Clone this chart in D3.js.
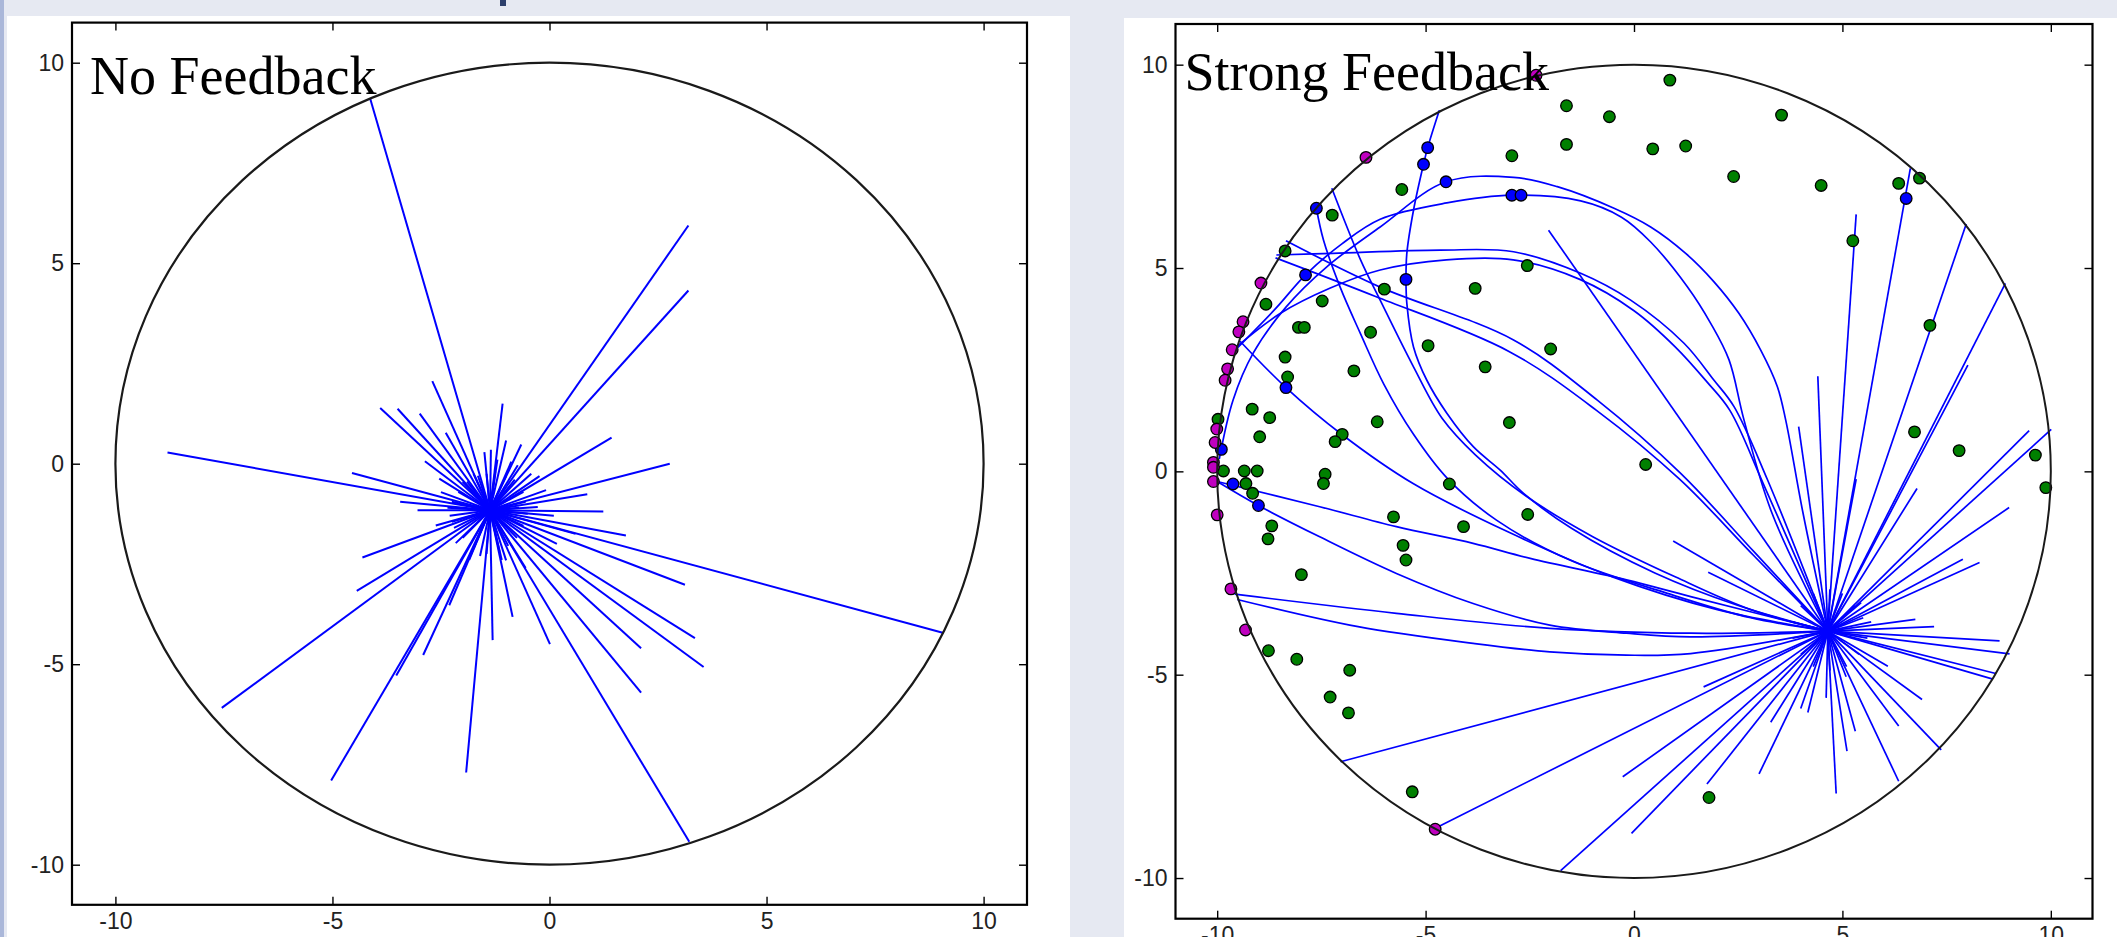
<!DOCTYPE html>
<html>
<head>
<meta charset="utf-8">
<script src="https://cdn.jsdelivr.net/npm/d3@7"></script>
<style>
  body { margin: 0; background: #e6e9f2; }
  svg { display: block; }
</style>
</head>
<body>
<div id="chart"></div>
<script>
// axes, shared by both panels
var axisDomain = [-11, 11];
var axisTicks  = [-10, -5, 0, 5, 10];
var panelTitles = ["No Feedback", "Strong Feedback"];

// left panel: straight rays from one centre
var noFbCenter = [-1.37, -1.16];
var noFbEndX = [-4.13, -2.70, -3.90, -3.50, -2.99, -2.39, -2.87, -1.08, -1.50, -1.35, -1.00, -0.65, -1.20, -0.88,
                -0.73, -0.42, -0.23, 3.20, 3.20, 1.43, 2.77, 0.87, -0.08, -0.27, 1.24, 0.10, 1.76, 0.17, 0.60,
                3.12, 9.08, 3.35, 3.55, 2.11, 2.11, 0.01, 3.22, -0.85, -1.00, -0.55, -1.31, -1.92, -2.31, -2.91,
                -3.53, -5.03, -2.16, -1.85, -4.44, -7.55, -4.31, -2.62, -2.25, -3.04, -3.44, -2.50, -2.54, -4.55,
                -8.80, -2.00, -1.75,
                -1.00, -0.90, -0.60, -0.55, -0.50, -0.60, -0.75, -0.95, -1.15, -1.45, -1.75, -2.00, -2.20, -2.30,
                -2.25, -2.10, -1.90, -1.65, -1.45, -1.25, -0.80, -0.70, -2.35, -1.60, -1.10];
var noFbEndY = [9.10, 2.06, 1.39, 1.37, 1.25, 0.77, 0.06, 1.50, 0.29, 0.35, 0.58, 0.48, 0.10, 0.05,
                -0.04, -0.25, -0.31, 5.94, 4.32, 0.65, 0.00, -0.76, -0.66, -1.08, -1.19, -1.30, -1.79, -2.00, -1.75,
                -3.02, -4.22, -4.35, -5.07, -4.60, -5.71, -4.50, -9.43, -3.82, -2.41, -2.60, -4.40, -7.70, -3.53, -4.77,
                -5.28, -7.90, -1.98, -2.40, -3.17, -6.09, -2.34, -1.54, -1.45, -1.16, -0.95, -0.71, -0.37, -0.23,
                0.28, -0.45, -0.25,
                -0.30, -0.55, -0.70, -0.95, -1.25, -1.55, -1.85, -2.05, -2.20, -2.25, -2.10, -1.85, -1.60, -1.30,
                -0.95, -0.70, -0.45, -0.30, -0.25, -0.20, -0.40, -1.10, -1.10, -2.30, -2.40];

// right panel: straight rays from the centre
var strongCenter = [4.65, -3.93];
var strongRayX = [3.95, 4.41, 5.33, 6.63, 7.97, 8.91, 8.01, 5.33, 6.79, 9.48, 10.01, 9.00, 7.89, 8.29, 6.75, 7.20,
                  8.77, 9.01, 8.68, 8.61, 6.09, 6.91, 6.35, 7.37, 6.35, 5.31, 5.11, 4.85, 4.61, 4.17, 4.00, 3.28,
                  3.00, 1.75, 1.67, 1.78, 0.94, -0.27, -0.06, -1.76, -4.78, -7.04, -2.05, 5.69, 5.45, 5.09,
                  5.30, 5.50, 5.60, 5.40, 5.10, 4.70, 4.30, 4.00, 3.80, 3.80, 4.00, 4.30, 4.70, 5.00];
var strongRayY = [1.10, 2.34, 6.32, 7.45, 6.08, 4.62, 2.61, -0.19, -0.42, 1.00, 1.03, -0.89, -2.16, -2.24, -3.64, -3.82,
                  -4.17, -4.49, -4.97, -5.11, -4.79, -5.61, -6.26, -6.85, -7.62, -6.39, -6.88, -7.92, -5.57, -5.93, -5.83, -6.17,
                  -7.44, -7.69, -5.30, -2.48, -1.71, -7.51, -8.90, -9.82, -8.78, -7.14, 5.93, -3.70, -3.23, -5.05,
                  -3.30, -3.60, -4.10, -4.50, -4.80, -4.90, -4.80, -4.50, -4.10, -3.70, -3.30, -3.00, -2.90, -3.00];

// right panel: bent paths that run into the centre
var strongCurves = [
  [[-9.95, 0.30], [-9.62, 1.75], [-9.14, 2.90], [-8.34, 4.05], [-7.37, 5.03], [-6.09, 6.01], [-4.51, 7.12], [-2.89, 7.23],
   [-1.84, 7.00], [-0.48, 6.47], [0.40, 6.01], [1.24, 5.36], [1.92, 4.66], [2.52, 3.88], [3.04, 2.98], [3.44, 2.08],
   [3.64, 1.26], [4.05, -1.00], [4.65, -3.93]],
  [[-9.60, 2.95], [-8.60, 4.00], [-7.88, 4.83], [-7.00, 5.60], [-6.09, 6.20], [-4.49, 6.60], [-2.93, 6.79], [-1.28, 6.65],
   [-0.30, 6.25], [0.40, 5.64], [1.28, 4.54], [1.84, 3.64], [2.28, 2.74], [2.64, 1.26], [3.30, -1.00], [4.65, -3.93]],
  [[-8.58, 5.32], [-7.22, 5.36], [-4.65, 5.44], [-2.89, 5.40], [-1.28, 4.87], [-0.08, 4.21], [1.20, 3.15], [1.92, 2.24],
   [2.40, 1.59], [3.20, -0.20], [4.65, -3.93]],
  [[-9.55, 3.05], [-8.49, 3.88], [-7.30, 4.50], [-6.09, 4.95], [-4.50, 5.20], [-2.90, 5.20], [-1.30, 4.72], [0.00, 3.95],
   [1.00, 3.05], [1.75, 2.20], [2.30, 1.50], [3.10, -0.30], [4.65, -3.93]],
  [[-4.67, 8.88], [-4.95, 7.96], [-5.05, 7.55], [-5.29, 6.42], [-5.45, 5.36], [-5.47, 4.72], [-5.45, 4.13], [-5.29, 3.06],
   [-4.97, 2.24], [-4.49, 1.43], [-3.85, 0.60], [-3.21, 0.03], [-2.65, -0.54], [-1.50, -1.40], [0.50, -2.50], [2.50, -3.30],
   [4.65, -3.93]],
  [[-7.25, 6.96], [-6.56, 5.20], [-6.09, 4.21], [-5.29, 2.57], [-4.60, 1.30], [-3.80, 0.40], [-2.60, -0.60], [-1.00, -1.60],
   [1.00, -2.60], [2.80, -3.40], [4.65, -3.93]],
  [[-7.62, 6.47], [-7.45, 5.69], [-7.05, 4.53], [-6.56, 3.38], [-6.00, 2.14], [-5.29, 0.91], [-4.49, -0.16], [-3.30, -1.20],
   [-1.50, -2.20], [0.80, -3.00], [2.80, -3.60], [4.65, -3.93]],
  [[-8.35, 5.67], [-6.09, 4.53], [-2.89, 3.23], [-0.88, 1.75], [1.12, -0.05], [2.90, -2.00], [4.65, -3.93]],
  [[-8.60, 5.25], [-6.20, 4.30], [-3.00, 2.95], [-0.90, 1.50], [1.10, -0.20], [2.90, -2.10], [4.65, -3.93]],
  [[-9.45, 3.20], [-8.35, 2.06], [-7.00, 0.90], [-5.30, -0.30], [-3.00, -1.50], [-0.50, -2.60], [2.00, -3.40], [4.65, -3.93]],
  [[-10.00, -0.25], [-7.54, -0.87], [-5.70, -1.36], [-3.86, -1.77], [-2.49, -2.14], [-0.18, -2.67], [1.36, -3.08], [4.65, -3.93]],
  [[-10.00, -0.25], [-9.01, -0.84], [-7.54, -1.61], [-5.70, -2.51], [-3.86, -3.25], [-2.02, -3.78], [-0.18, -3.98],
   [1.36, -4.07], [4.65, -3.93]],
  [[-9.58, -3.02], [-5.70, -3.49], [-2.02, -3.86], [1.36, -3.98], [4.65, -3.93]],
  [[-9.52, -3.15], [-6.62, -3.82], [-3.86, -4.23], [-2.02, -4.44], [-0.18, -4.52], [1.36, -4.48], [4.65, -3.93]]
];

// right panel: scatter points by colour
var greenX = [0.86, 3.54, 0.45, 1.24, 2.39, 4.49, 6.35, 6.85, 5.25, 7.10, 6.73, 7.80, 9.63, 9.88, 1.80,
              -1.62, -0.59, -1.62, -2.93, -5.57, -7.24, -8.37, -8.83, -7.48, -5.99, -3.81, -2.56, -8.05, -7.91,
              -6.32, -8.37, -8.31, -4.94, -2.00, -6.72, -3.57, -9.16, -8.74, -8.98, -6.16, -2.99, -7.00, -7.17,
              -9.98, 0.28, -9.85, -9.35, -9.04, -7.41, -7.45, -9.31, -9.15, -4.43, -8.69, -8.78, -5.77, -4.09,
              -2.55, -5.54, -5.47, -7.98, -8.77, -8.09, -6.82, -7.29, -6.85, -5.32];
var greenY = [9.62, 8.76, 7.93, 8.00, 7.25, 7.03, 7.08, 7.21, 5.67, 3.59, 0.97, 0.51, 0.40, -0.40, -8.02,
              8.99, 8.72, 8.04, 7.76, 6.93, 6.30, 5.42, 4.11, 4.19, 4.48, 4.50, 5.06, 3.54, 3.54,
              3.42, 2.81, 2.32, 3.09, 3.01, 2.47, 2.57, 1.53, 1.32, 0.85, 1.22, 1.20, 0.91, 0.73,
              1.28, 0.17, 0.01, 0.01, 0.01, -0.07, -0.30, -0.30, -0.54, -0.31, -1.34, -1.66, -1.12, -1.36,
              -1.06, -1.82, -2.18, -2.54, -4.41, -4.62, -4.89, -5.55, -5.94, -7.88];
var blueX = [-4.95, -5.05, -4.51, -2.93, -2.71, -7.62, -7.88, -5.47, -8.35, -9.90, -9.62, -9.01, 6.53];
var blueY = [7.96, 7.55, 7.12, 6.79, 6.79, 6.47, 4.83, 4.72, 2.06, 0.54, -0.31, -0.84, 6.71];
var purpleX = [-2.35, -6.43, -8.95, -9.38, -9.48, -9.64, -9.75, -9.81, -10.01, -10.05, -10.09, -10.09, -10.09,
               -10.00, -9.67, -9.32, -4.77];
var purpleY = [9.74, 7.72, 4.63, 3.68, 3.43, 2.99, 2.52, 2.24, 1.04, 0.71, 0.22, 0.10, -0.25,
               -1.07, -2.89, -3.90, -8.80];

var width = 2117, height = 937;

var svg = d3.select("#chart").append("svg")
    .attr("width", width)
    .attr("height", height);

// slide background pieces
svg.append("rect").attr("x", 0).attr("y", 0).attr("width", width).attr("height", height).style("fill", "#e6e9f2");
svg.append("rect").attr("x", 0).attr("y", 0).attr("width", 4).attr("height", height).style("fill", "#aab7d9");
svg.append("rect").attr("x", 500).attr("y", 0).attr("width", 6).attr("height", 6).style("fill", "#2d3f6c");
svg.append("rect").attr("x", 7).attr("y", 16).attr("width", 1063).attr("height", height - 16).style("fill", "#fff");
svg.append("rect").attr("x", 1124).attr("y", 18).attr("width", width - 1124).attr("height", height - 18).style("fill", "#fff");

var boxes = [
  {left: 72, right: 1027, top: 22.6, bottom: 904.8, titleDx: 18, titleY: 94},
  {left: 1175.5, right: 2092.5, top: 24, bottom: 918.7, titleDx: 9, titleY: 90}
];

function makePanel(box) {
  var x = d3.scaleLinear().domain(axisDomain).range([box.left, box.right]);
  var y = d3.scaleLinear().domain(axisDomain).range([box.bottom, box.top]);
  var g = svg.append("g");
  var fmt = function(d) { return String(d); };

  var axes = [
    {a: d3.axisBottom(x).tickFormat(fmt), t: "translate(0," + box.bottom + ")"},
    {a: d3.axisTop(x).tickFormat(""),     t: "translate(0," + box.top + ")"},
    {a: d3.axisLeft(y).tickFormat(fmt),   t: "translate(" + box.left + ",0)"},
    {a: d3.axisRight(y).tickFormat(""),   t: "translate(" + box.right + ",0)"}
  ];
  axes.forEach(function(ax) {
    var ag = g.append("g")
      .attr("transform", ax.t)
      .call(ax.a.tickValues(axisTicks).tickSize(-8).tickPadding(8));
    ag.select(".domain").remove();
    ag.selectAll("line").style("stroke", "#000").style("stroke-width", 1.4);
    ag.selectAll("text")
      .style("font-family", "Liberation Sans, Arial, sans-serif")
      .style("font-size", "23px")
      .style("fill", "#222");
  });

  g.append("rect")
    .attr("x", box.left).attr("y", box.top)
    .attr("width", box.right - box.left).attr("height", box.bottom - box.top)
    .style("fill", "none").style("stroke", "#000").style("stroke-width", 2.2);

  return {g: g, x: x, y: y};
}

// ---- left panel
var p1 = makePanel(boxes[0]);
p1.g.selectAll(".ray")
  .data(d3.range(noFbEndX.length))
  .enter().append("line")
  .attr("x1", p1.x(noFbCenter[0])).attr("y1", p1.y(noFbCenter[1]))
  .attr("x2", function(i) { return p1.x(noFbEndX[i]); })
  .attr("y2", function(i) { return p1.y(noFbEndY[i]); })
  .style("stroke", "#0000ff").style("stroke-width", 2);

p1.g.append("ellipse")
  .attr("cx", p1.x(0)).attr("cy", p1.y(0))
  .attr("rx", p1.x(10) - p1.x(0)).attr("ry", p1.y(0) - p1.y(10))
  .style("fill", "none").style("stroke", "#1a1a1a").style("stroke-width", 2.2);

// ---- right panel
var p2 = makePanel(boxes[1]);
p2.g.selectAll(".ray")
  .data(d3.range(strongRayX.length))
  .enter().append("line")
  .attr("x1", p2.x(strongCenter[0])).attr("y1", p2.y(strongCenter[1]))
  .attr("x2", function(i) { return p2.x(strongRayX[i]); })
  .attr("y2", function(i) { return p2.y(strongRayY[i]); })
  .style("stroke", "#0000ff").style("stroke-width", 1.7);

var curve = d3.line()
  .x(function(d) { return p2.x(d[0]); })
  .y(function(d) { return p2.y(d[1]); })
  .curve(d3.curveCatmullRom.alpha(0.5));

p2.g.selectAll(".bent")
  .data(strongCurves)
  .enter().append("path")
  .attr("d", curve)
  .style("fill", "none").style("stroke", "#0000ff").style("stroke-width", 1.7);

function dots(xs, ys, colour) {
  p2.g.selectAll(null)
    .data(d3.range(xs.length))
    .enter().append("circle")
    .attr("cx", function(i) { return p2.x(xs[i]); })
    .attr("cy", function(i) { return p2.y(ys[i]); })
    .attr("r", 5.8)
    .style("fill", colour).style("stroke", "#000").style("stroke-width", 1.3);
}
dots(greenX, greenY, "#008000");
dots(blueX, blueY, "#0000ff");
dots(purpleX, purpleY, "#bf00bf");

p2.g.append("ellipse")
  .attr("cx", p2.x(0)).attr("cy", p2.y(0))
  .attr("rx", p2.x(10) - p2.x(0)).attr("ry", p2.y(0) - p2.y(10))
  .style("fill", "none").style("stroke", "#1a1a1a").style("stroke-width", 2);

// titles inside the frames
[p1, p2].forEach(function(p, i) {
  p.g.append("text")
    .attr("x", boxes[i].left + boxes[i].titleDx)
    .attr("y", boxes[i].titleY)
    .text(panelTitles[i])
    .style("font-family", "Liberation Serif, Times New Roman, serif")
    .style("font-size", "54px")
    .style("fill", "#000");
});
</script>
</body>
</html>
